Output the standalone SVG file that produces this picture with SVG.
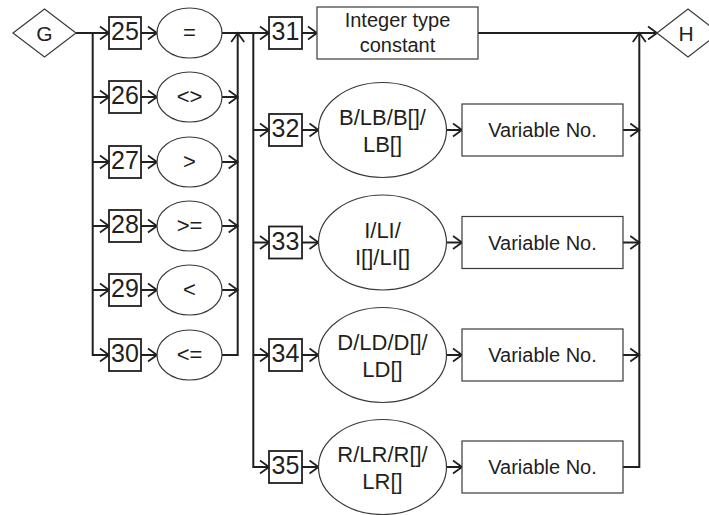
<svg xmlns="http://www.w3.org/2000/svg" width="709" height="515" viewBox="0 0 709 515">
<defs>
<marker id="ah" viewBox="-10 -8 12 16" markerWidth="12" markerHeight="16" refX="0" refY="0" orient="auto" markerUnits="userSpaceOnUse">
<path d="M-9,-6.5 L0,0 L-9,6.5" fill="none" stroke="#231f20" stroke-width="1.8"/>
</marker>
<style>
.c{fill:none;stroke:#231f20;stroke-width:2}
.num{fill:#fff;stroke:#231f20;stroke-width:1.8}
.sh{fill:#fff;stroke:#3a3a3a;stroke-width:1.2}
.tn{font-family:"Liberation Sans",Arial,sans-serif;font-size:25px;fill:#231f20;text-anchor:middle}
.te{font-family:"Liberation Sans",Arial,sans-serif;font-size:22px;fill:#231f20;text-anchor:middle}
.tr{font-family:"Liberation Sans",Arial,sans-serif;font-size:20px;fill:#231f20;text-anchor:middle}
.td{font-family:"Liberation Sans",Arial,sans-serif;font-size:21px;fill:#231f20;text-anchor:middle}
</style>
</defs>
<g id="connectors">
<path class="c" d="M76,33 H109" marker-end="url(#ah)"/>
<path class="c" d="M92.7,33 V355 H109" marker-end="url(#ah)"/>
<path class="c" d="M92.7,97 H109" marker-end="url(#ah)"/>
<path class="c" d="M92.7,162 H109" marker-end="url(#ah)"/>
<path class="c" d="M92.7,226 H109" marker-end="url(#ah)"/>
<path class="c" d="M92.7,290 H109" marker-end="url(#ah)"/>
<path class="c" d="M141,33 H157" marker-end="url(#ah)"/>
<path class="c" d="M141,97 H157" marker-end="url(#ah)"/>
<path class="c" d="M141,162 H157" marker-end="url(#ah)"/>
<path class="c" d="M141,226 H157" marker-end="url(#ah)"/>
<path class="c" d="M141,290 H157" marker-end="url(#ah)"/>
<path class="c" d="M141,355 H157" marker-end="url(#ah)"/>
<path class="c" d="M222,97 H237.7" marker-end="url(#ah)"/>
<path class="c" d="M222,162 H237.7" marker-end="url(#ah)"/>
<path class="c" d="M222,226 H237.7" marker-end="url(#ah)"/>
<path class="c" d="M222,290 H237.7" marker-end="url(#ah)"/>
<path class="c" d="M222,355 H237.7 V33" marker-end="url(#ah)"/>
<path class="c" d="M222,33 H269" marker-end="url(#ah)"/>
<path class="c" d="M253.3,33 V467 H269" marker-end="url(#ah)"/>
<path class="c" d="M253.3,130 H269" marker-end="url(#ah)"/>
<path class="c" d="M253.3,242.5 H269" marker-end="url(#ah)"/>
<path class="c" d="M253.3,355 H269" marker-end="url(#ah)"/>
<path class="c" d="M302,33 H317" marker-end="url(#ah)"/>
<path class="c" d="M302,130 H318.5" marker-end="url(#ah)"/>
<path class="c" d="M302,242.5 H318.5" marker-end="url(#ah)"/>
<path class="c" d="M302,355 H318.5" marker-end="url(#ah)"/>
<path class="c" d="M302,467 H318.5" marker-end="url(#ah)"/>
<path class="c" d="M446.5,130 H462" marker-end="url(#ah)"/>
<path class="c" d="M446.5,242.5 H462" marker-end="url(#ah)"/>
<path class="c" d="M446.5,355 H462" marker-end="url(#ah)"/>
<path class="c" d="M446.5,467 H462" marker-end="url(#ah)"/>
<path class="c" d="M623,130 H639.3" marker-end="url(#ah)"/>
<path class="c" d="M623,242.5 H639.3" marker-end="url(#ah)"/>
<path class="c" d="M623,355 H639.3" marker-end="url(#ah)"/>
<path class="c" d="M623,467 H639.3 V33" marker-end="url(#ah)"/>
<path class="c" d="M478,33 H657" marker-end="url(#ah)"/>
</g>
<g id="G"><path class="sh" d="M13,33 L44.5,9 L76,33 L44.5,57 Z"/><text class="td" x="44.5" y="40.5">G</text></g>
<g id="H"><path class="sh" d="M657,33 L688,9 L719,33 L688,57 Z"/><text class="td" x="686" y="40.5">H</text></g>
<g id="n25"><rect class="num" x="109" y="17" width="32" height="32"/><text class="tn" x="125" y="40">25</text></g>
<g id="n26"><rect class="num" x="109" y="81" width="32" height="32"/><text class="tn" x="125" y="104">26</text></g>
<g id="n27"><rect class="num" x="109" y="146" width="32" height="32"/><text class="tn" x="125" y="169">27</text></g>
<g id="n28"><rect class="num" x="109" y="210" width="32" height="32"/><text class="tn" x="125" y="233">28</text></g>
<g id="n29"><rect class="num" x="109" y="274" width="32" height="32"/><text class="tn" x="125" y="297">29</text></g>
<g id="n30"><rect class="num" x="109" y="339" width="32" height="32"/><text class="tn" x="125" y="362">30</text></g>
<g id="e25"><ellipse class="sh" cx="189.5" cy="33" rx="32.5" ry="25"/><text class="te" x="189.5" y="40">=</text></g>
<g id="e26"><ellipse class="sh" cx="189.5" cy="97" rx="32.5" ry="25"/><text class="te" x="189.5" y="104">&lt;&gt;</text></g>
<g id="e27"><ellipse class="sh" cx="189.5" cy="162" rx="32.5" ry="25"/><text class="te" x="189.5" y="169">&gt;</text></g>
<g id="e28"><ellipse class="sh" cx="189.5" cy="226" rx="32.5" ry="25"/><text class="te" x="189.5" y="233">&gt;=</text></g>
<g id="e29"><ellipse class="sh" cx="189.5" cy="290" rx="32.5" ry="25"/><text class="te" x="189.5" y="297">&lt;</text></g>
<g id="e30"><ellipse class="sh" cx="189.5" cy="355" rx="32.5" ry="25"/><text class="te" x="189.5" y="362">&lt;=</text></g>
<g id="n31"><rect class="num" x="269" y="17" width="33" height="32"/><text class="tn" x="285.5" y="40">31</text></g>
<g id="n32"><rect class="num" x="269" y="114" width="33" height="32"/><text class="tn" x="285.5" y="137">32</text></g>
<g id="n33"><rect class="num" x="269" y="226.5" width="33" height="32"/><text class="tn" x="285.5" y="249.5">33</text></g>
<g id="n34"><rect class="num" x="269" y="339" width="33" height="32"/><text class="tn" x="285.5" y="362">34</text></g>
<g id="n35"><rect class="num" x="269" y="451" width="33" height="32"/><text class="tn" x="285.5" y="474">35</text></g>
<g id="r31"><rect class="sh" x="317" y="7" width="161" height="52"/><text class="tr" x="397.5" y="27">Integer type</text><text class="tr" x="397.5" y="52">constant</text></g>
<g id="e32"><ellipse class="sh" cx="382.5" cy="130" rx="64" ry="47.5"/><text class="te" x="382.5" y="125">B/LB/B[]/</text><text class="te" x="382.5" y="152">LB[]</text></g>
<g id="e33"><ellipse class="sh" cx="382.5" cy="242.5" rx="64" ry="47.5"/><text class="te" x="382.5" y="237.5">I/LI/</text><text class="te" x="382.5" y="264.5">I[]/LI[]</text></g>
<g id="e34"><ellipse class="sh" cx="382.5" cy="355" rx="64" ry="47.5"/><text class="te" x="382.5" y="350">D/LD/D[]/</text><text class="te" x="382.5" y="377">LD[]</text></g>
<g id="e35"><ellipse class="sh" cx="382.5" cy="467" rx="64" ry="47.5"/><text class="te" x="382.5" y="462">R/LR/R[]/</text><text class="te" x="382.5" y="489">LR[]</text></g>
<g id="v32"><rect class="sh" x="462" y="104" width="161" height="52"/><text class="tr" x="542.5" y="137">Variable No.</text></g>
<g id="v33"><rect class="sh" x="462" y="216.5" width="161" height="52"/><text class="tr" x="542.5" y="249.5">Variable No.</text></g>
<g id="v34"><rect class="sh" x="462" y="329" width="161" height="52"/><text class="tr" x="542.5" y="362">Variable No.</text></g>
<g id="v35"><rect class="sh" x="462" y="441" width="161" height="52"/><text class="tr" x="542.5" y="474">Variable No.</text></g>
</svg>
